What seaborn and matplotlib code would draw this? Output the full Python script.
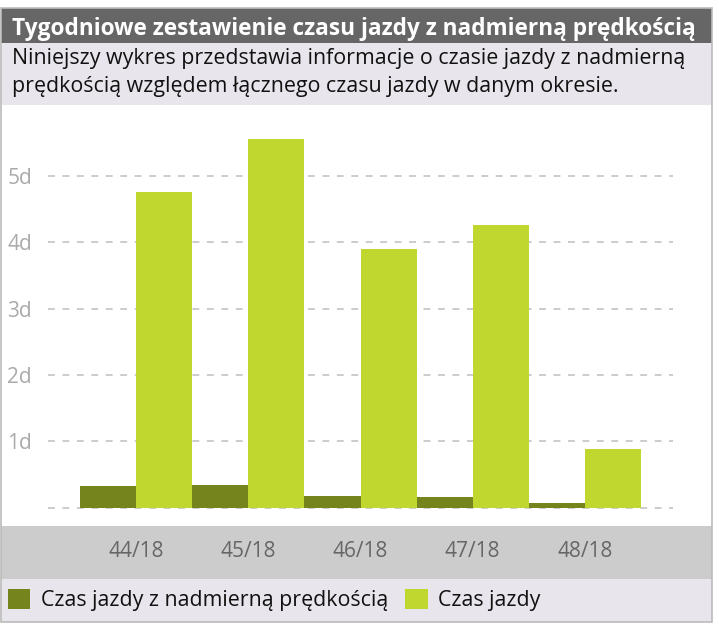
import matplotlib
matplotlib.use("Agg")
import matplotlib.pyplot as plt
from matplotlib.patches import Rectangle
import seaborn as sns
import pandas as pd

# ---- data ----
weeks = ["44/18", "45/18", "46/18", "47/18", "48/18"]
speeding_days = [0.32, 0.34, 0.17, 0.16, 0.075]
driving_days = [4.76, 5.555, 3.90, 4.26, 0.88]
series_names = ["Czas jazdy z nadmierną prędkością", "Czas jazdy"]
ytick_values = [0, 1, 2, 3, 4, 5]
ytick_labels = ["", "1d", "2d", "3d", "4d", "5d"]
title = "Tygodniowe zestawienie czasu jazdy z nadmierną prędkością"
subtitle_lines = ["Niniejszy wykres przedstawia informacje o czasie jazdy z nadmierną",
                  "prędkością względem łącznego czasu jazdy w danym okresie."]

DARK = "#76841E"
LIGHT = "#C0D72F"

df = pd.DataFrame({
    "week": weeks * 2,
    "series": [series_names[0]] * len(weeks) + [series_names[1]] * len(weeks),
    "value": speeding_days + driving_days,
})

W, H = 719, 628
DPI = 100
sns.set_theme(style="white")
plt.rcParams["font.family"] = ["Open Sans", "DejaVu Sans"]

fig = plt.figure(figsize=(W / DPI, H / DPI), dpi=DPI)
fig.patch.set_facecolor("white")


def fx(x):
    return x / W


def fy(y):
    return 1 - y / H


def band(y0, y1, color):
    fig.patches.append(Rectangle((fx(1), fy(y1)), fx(712) - fx(1), fy(y0) - fy(y1),
                                 transform=fig.transFigure, facecolor=color,
                                 edgecolor="none", zorder=-2))


band(8, 43, "#666666")
band(43, 105, "#E8E6EC")
band(105, 526, "#FFFFFF")
band(526, 579, "#CCCCCC")
band(579, 622, "#E8E6EC")
fig.patches.append(Rectangle((fx(1), fy(622)), fx(712) - fx(1), fy(8) - fy(622),
                             transform=fig.transFigure, facecolor="none",
                             edgecolor="#BBBBBB", linewidth=1.2, zorder=5))

fig.text(fx(12), fy(35), title, color="white", fontsize=16.3, fontweight="bold",
         ha="left", va="baseline")
fig.text(fx(12), fy(64), subtitle_lines[0], color="#111111", fontsize=15.4,
         ha="left", va="baseline")
fig.text(fx(12), fy(92), subtitle_lines[1], color="#111111", fontsize=15.4,
         ha="left", va="baseline")

# axes: x pixel 48..673, y pixel 105..526
ax = fig.add_axes([fx(48), fy(526), fx(673) - fx(48), fy(105) - fy(526)])
ax.set_facecolor("none")

sns.barplot(data=df, x="week", y="value", hue="series", palette=[DARK, LIGHT],
            width=1.0, saturation=1, errorbar=None, ax=ax, zorder=3,
            linewidth=0, edgecolor="none")

handles, labels = ax.get_legend_handles_labels()
if ax.get_legend() is not None:
    ax.get_legend().remove()

zero_px = 507.5
per_day = 66.3
ax.set_ylim(-(526 - zero_px) / per_day, (zero_px - 105) / per_day)
ax.set_xlim(-0.786, 4.786)

for v in ytick_values:
    ax.axhline(v, xmin=0, xmax=1, color="#C8C8C8", linewidth=1.3,
               linestyle=(0, (3.8, 4.2)), zorder=1)

ax.set_yticks(ytick_values)
ax.set_yticklabels(ytick_labels)
ax.tick_params(axis="y", length=0, pad=11.5, labelsize=15, labelcolor="#AAAAAA")
ax.tick_params(axis="x", length=0, pad=11.0, labelsize=15, labelcolor="#666666")
ax.set_xlabel("")
ax.set_ylabel("")
for s in ax.spines.values():
    s.set_visible(False)
ax.grid(False)

fig.legend(handles, labels, loc="center left", bbox_to_anchor=(fx(8), fy(600)),
           ncol=2, frameon=False, fontsize=15.4, handlelength=1.05,
           handleheight=1.05, handletextpad=0.5, columnspacing=0.78,
           borderpad=0, borderaxespad=0, labelcolor="#111111")

fig.savefig("out.png", dpi=DPI, facecolor="white")
